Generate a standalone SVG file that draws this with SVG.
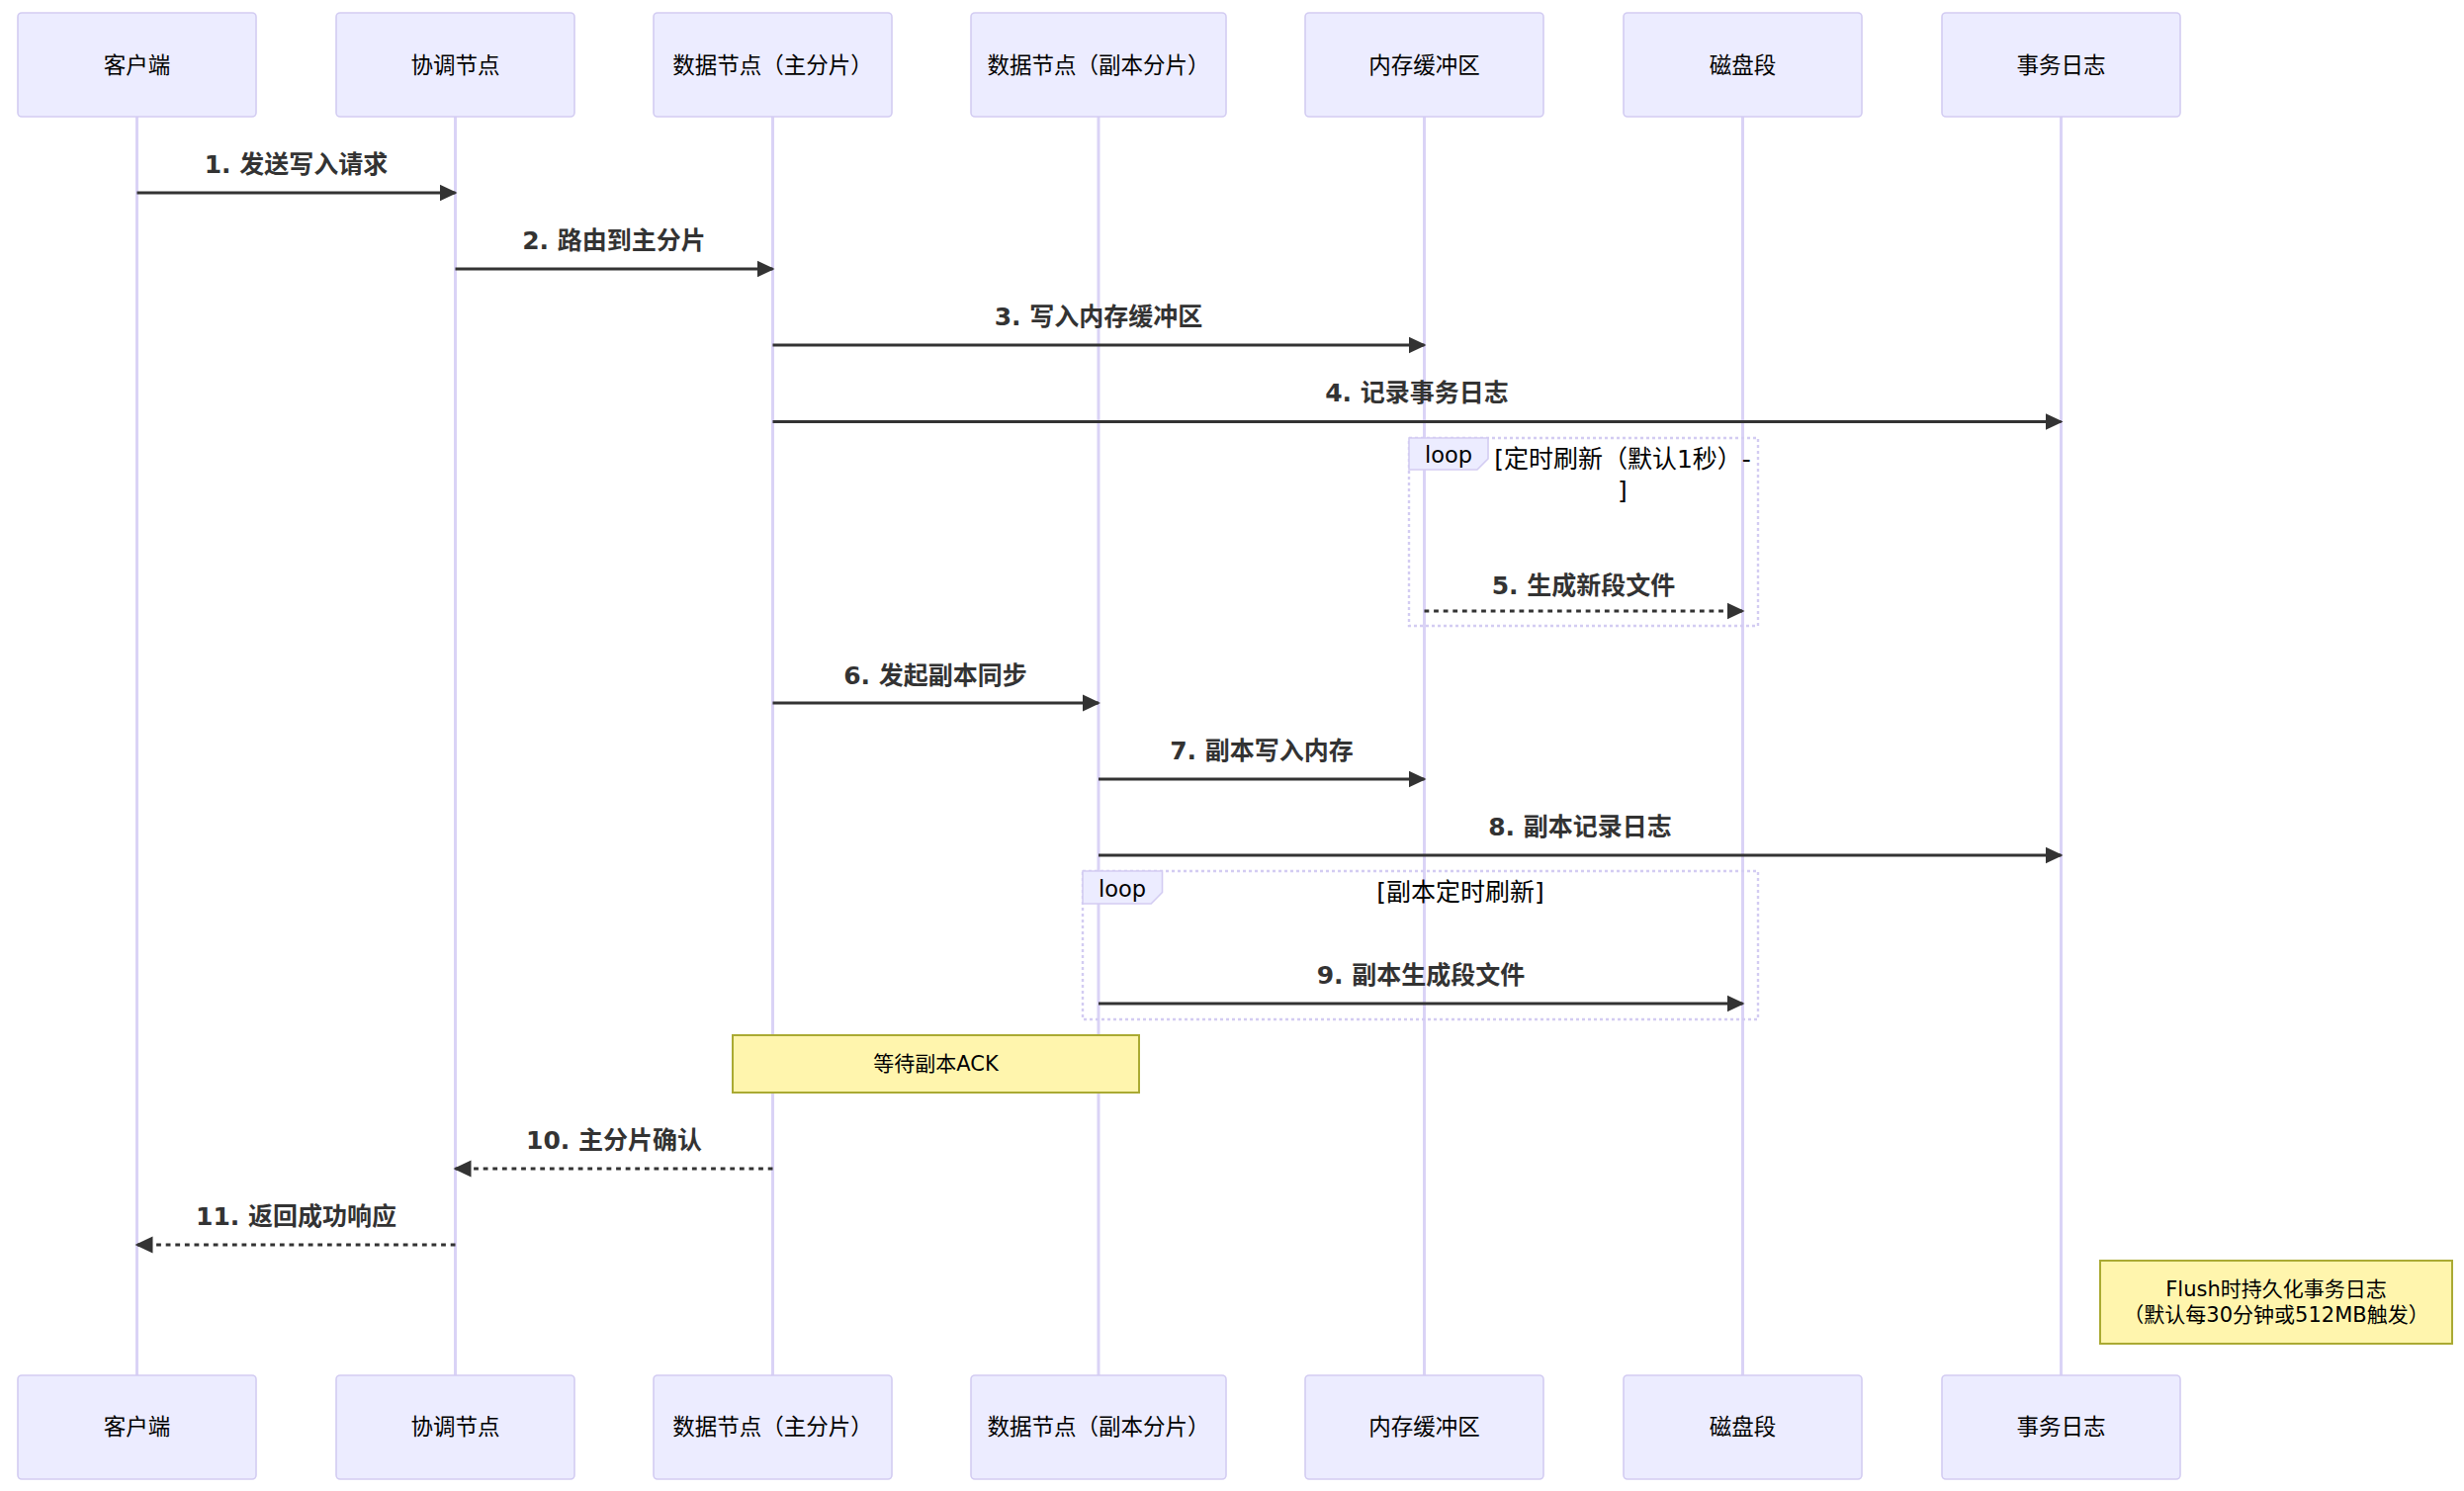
<svg xmlns="http://www.w3.org/2000/svg" width="2492" height="1508" viewBox="0 0 2492 1508">
<style>
  .actor { fill: #ECECFF; stroke: #D3CCF2; stroke-width: 1.6; }
  .atext { font-family: "DejaVu Sans", "Noto Sans CJK SC", sans-serif; font-size: 22.5px; fill: #000; text-anchor: middle; dominant-baseline: central; }
  .life { stroke: #DAD3F6; stroke-width: 3; fill: none; }
  .msg { stroke: #333; stroke-width: 3; fill: none; marker-end: url(#arrow); }
  .dot { stroke-dasharray: 4.8 4.8; }
  .mtext { font-family: "DejaVu Sans", "Noto Sans CJK SC", sans-serif; font-size: 25px; font-weight: bold; fill: #333; text-anchor: middle; dominant-baseline: central; }
  .loop { fill: none; stroke: #D3CCF2; stroke-width: 2.4; stroke-dasharray: 3 3; }
  .lbox { fill: #ECECFF; stroke: #D3CCF2; stroke-width: 1.6; }
  .ltext { font-family: "DejaVu Sans", "Noto Sans CJK SC", sans-serif; font-size: 22.5px; fill: #000; text-anchor: middle; dominant-baseline: central; }
  .ctext { font-family: "DejaVu Sans", "Noto Sans CJK SC", sans-serif; font-size: 25px; fill: #000; text-anchor: middle; dominant-baseline: central; }
  .note { fill: #FFF5AD; stroke: #AAAA33; stroke-width: 2; }
  .ntext { font-family: "DejaVu Sans", "Noto Sans CJK SC", sans-serif; font-size: 21px; fill: #000; text-anchor: middle; dominant-baseline: central; }
</style>
<defs>
  <marker id="arrow" markerUnits="userSpaceOnUse" markerWidth="20" markerHeight="20" viewBox="0 0 20 18" refX="16" refY="8.5" orient="auto">
    <path d="M0,0 L18,8.5 L0,17 z" fill="#333"/>
  </marker>
</defs>
<rect width="2492" height="1508" fill="#fff"/>

<g id="lifelines">
  <line class="life" x1="138.5" y1="118" x2="138.5" y2="1391"/>
  <line class="life" x1="460.5" y1="118" x2="460.5" y2="1391"/>
  <line class="life" x1="781.5" y1="118" x2="781.5" y2="1391"/>
  <line class="life" x1="1111" y1="118" x2="1111" y2="1391"/>
  <line class="life" x1="1440.5" y1="118" x2="1440.5" y2="1391"/>
  <line class="life" x1="1762.5" y1="118" x2="1762.5" y2="1391"/>
  <line class="life" x1="2084.5" y1="118" x2="2084.5" y2="1391"/>
</g>

<g id="actor-client">
  <rect class="actor" x="18" y="13" width="241" height="105" rx="4"/>
  <text class="atext" x="138.5" y="65.5">客户端</text>
  <rect class="actor" x="18" y="1391" width="241" height="105" rx="4"/>
  <text class="atext" x="138.5" y="1443">客户端</text>
</g>
<g id="actor-coordinator">
  <rect class="actor" x="340" y="13" width="241" height="105" rx="4"/>
  <text class="atext" x="460.5" y="65.5">协调节点</text>
  <rect class="actor" x="340" y="1391" width="241" height="105" rx="4"/>
  <text class="atext" x="460.5" y="1443">协调节点</text>
</g>
<g id="actor-primary">
  <rect class="actor" x="661" y="13" width="241" height="105" rx="4"/>
  <text class="atext" x="781.5" y="65.5">数据节点（主分片）</text>
  <rect class="actor" x="661" y="1391" width="241" height="105" rx="4"/>
  <text class="atext" x="781.5" y="1443">数据节点（主分片）</text>
</g>
<g id="actor-replica">
  <rect class="actor" x="982" y="13" width="258" height="105" rx="4"/>
  <text class="atext" x="1111" y="65.5">数据节点（副本分片）</text>
  <rect class="actor" x="982" y="1391" width="258" height="105" rx="4"/>
  <text class="atext" x="1111" y="1443">数据节点（副本分片）</text>
</g>
<g id="actor-buffer">
  <rect class="actor" x="1320" y="13" width="241" height="105" rx="4"/>
  <text class="atext" x="1440.5" y="65.5">内存缓冲区</text>
  <rect class="actor" x="1320" y="1391" width="241" height="105" rx="4"/>
  <text class="atext" x="1440.5" y="1443">内存缓冲区</text>
</g>
<g id="actor-segment">
  <rect class="actor" x="1642" y="13" width="241" height="105" rx="4"/>
  <text class="atext" x="1762.5" y="65.5">磁盘段</text>
  <rect class="actor" x="1642" y="1391" width="241" height="105" rx="4"/>
  <text class="atext" x="1762.5" y="1443">磁盘段</text>
</g>
<g id="actor-translog">
  <rect class="actor" x="1964" y="13" width="241" height="105" rx="4"/>
  <text class="atext" x="2084.5" y="65.5">事务日志</text>
  <rect class="actor" x="1964" y="1391" width="241" height="105" rx="4"/>
  <text class="atext" x="2084.5" y="1443">事务日志</text>
</g>

<g id="loop1">
  <rect class="loop" x="1425" y="443" width="353" height="190"/>
  <polygon class="lbox" points="1425,443 1505,443 1505,464 1494,475 1425,475"/>
  <text class="ltext" x="1465" y="460">loop</text>
  <text class="ctext" x="1641" y="464">[定时刷新（默认1秒）-</text>
  <text class="ctext" x="1641" y="496">]</text>
</g>
<g id="loop2">
  <rect class="loop" x="1095" y="881" width="683" height="150"/>
  <polygon class="lbox" points="1095,881 1175.5,881 1175.5,902.5 1164.2,914 1095,914"/>
  <text class="ltext" x="1135" y="899">loop</text>
  <text class="ctext" x="1477" y="902">[副本定时刷新]</text>
</g>

<g id="note-wait-ack">
  <rect class="note" x="741" y="1047" width="411" height="58"/>
  <text class="ntext" x="946.5" y="1076">等待副本ACK</text>
</g>
<g id="note-flush">
  <rect class="note" x="2124" y="1275" width="356" height="84"/>
  <text class="ntext" x="2302" y="1304">Flush时持久化事务日志</text>
  <text class="ntext" x="2302" y="1330">（默认每30分钟或512MB触发）</text>
</g>

<g id="connectors">
  <line class="msg" x1="138.5" y1="195" x2="460.5" y2="195"/>
  <text class="mtext" x="299.5" y="166">1. 发送写入请求</text>
  <line class="msg" x1="460.5" y1="272" x2="781.5" y2="272"/>
  <text class="mtext" x="621" y="243">2. 路由到主分片</text>
  <line class="msg" x1="781.5" y1="349" x2="1440.5" y2="349"/>
  <text class="mtext" x="1111" y="320">3. 写入内存缓冲区</text>
  <line class="msg" x1="781.5" y1="426.5" x2="2084.5" y2="426.5"/>
  <text class="mtext" x="1433" y="397">4. 记录事务日志</text>
  <line class="msg dot" x1="1440.5" y1="618" x2="1762.5" y2="618"/>
  <text class="mtext" x="1601.5" y="592">5. 生成新段文件</text>
  <line class="msg" x1="781.5" y1="711" x2="1111" y2="711"/>
  <text class="mtext" x="946" y="683">6. 发起副本同步</text>
  <line class="msg" x1="1111" y1="788" x2="1440.5" y2="788"/>
  <text class="mtext" x="1276" y="759">7. 副本写入内存</text>
  <line class="msg" x1="1111" y1="865" x2="2084.5" y2="865"/>
  <text class="mtext" x="1598" y="836">8. 副本记录日志</text>
  <line class="msg" x1="1111" y1="1015" x2="1762.5" y2="1015"/>
  <text class="mtext" x="1437" y="986">9. 副本生成段文件</text>
  <line class="msg dot" x1="781.5" y1="1182" x2="460.5" y2="1182"/>
  <text class="mtext" x="621" y="1153">10. 主分片确认</text>
  <line class="msg dot" x1="460.5" y1="1259" x2="138.5" y2="1259"/>
  <text class="mtext" x="299.5" y="1230">11. 返回成功响应</text>
</g>
</svg>
